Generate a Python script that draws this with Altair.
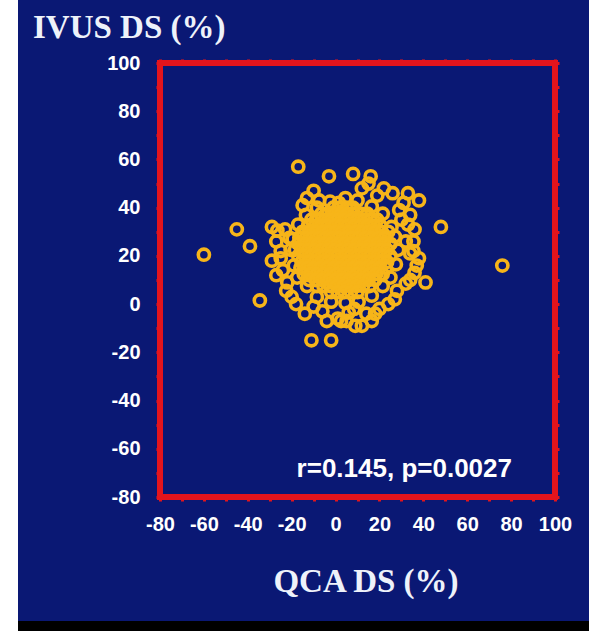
import altair as alt
import pandas as pd

# ---- data (QCA DS %, IVUS DS %) ----
outliers = [(-60, 20.5), (-45, 31), (-39, 24), (-34.5, 1.5), (76, 16), (48, 32),
            (-17, 57), (-3, 53), (-11, -15), (-2, -15)]

edge_points = [(8, 54), (16, 53), (15, 50), (22, 48), (26, 46), (12, 48), (19, 45),
               (-10, 47), (-13, 44), (-15, 41), (-7.5, 43), (1.5, 42),
               (-29, 32), (-26.5, 30.5), (-27, 26), (-25, 22), (-23, 31), (-25, 19),
               (-21, 27.5), (-29, 18), (-27, 12), (-24, 14), (-22, 9), (-22.5, 5.5),
               (-18, 0), (-20, 3), (-14, -4), (-10, -1), (-6, -3), (-4, -7), (1, -6),
               (5, -7), (6, -3.5), (9, -9), (8.5, -2), (14, -4), (18, -4), (20, -2),
               (12, -9), (16.5, -7), (2.5, -7), (24, 0), (27, 2), (28, 5.5), (32, 8.5),
               (34, 10), (41, 9), (37, 16), (36, 13), (38, 19), (35.5, 22), (34, 21),
               (32, 26), (35.5, 26), (36, 31), (33, 33), (30, 35), (34, 37), (29, 39),
               (31, 42), (38, 43), (33, 46)]

fringe_points = [(28.5, 22.5), (27, 28), (25.5, 32), (21.5, 37.5), (16.5, 40.5), (10, 43),
                 (4.5, 44), (-2.5, 42.5), (-8.5, 40), (-13.5, 37), (-17, 33), (-19.5, 27),
                 (-20.5, 22.5), (-19, 16), (-17.5, 11), (-13, 7.5), (-8.5, 3), (-2, 1),
                 (4.5, 0.5), (10.5, 1), (16.5, 3.5), (21.5, 7.5), (25, 11), (27.5, 16.5)]

core_rows_y = [40.0, 37.5, 35.0, 32.5, 30.0, 27.5, 25.0, 22.5,
               20.0, 17.5, 15.0, 12.5, 10.0, 7.5, 5.0]
core_rows_x = [
    [-1, 2, 5, 8],
    [-6.5, -3.5, -0.5, 2.5, 5.5, 8.5, 11.5, 14.5],
    [-11, -8, -5, -2, 1, 4, 7, 10, 13, 16, 19],
    [-12.5, -9.5, -6.5, -3.5, -0.5, 2.5, 5.5, 8.5, 11.5, 14.5, 17.5, 20.5],
    [-15, -12, -9, -6, -3, 0, 3, 6, 9, 12, 15, 18, 21, 24],
    [-16.5, -13.5, -10.5, -7.5, -4.5, -1.5, 1.5, 4.5, 7.5, 10.5, 13.5, 16.5, 19.5, 22.5],
    [-17, -14, -11, -8, -5, -2, 1, 4, 7, 10, 13, 16, 19, 22, 25],
    [-18.5, -15.5, -12.5, -9.5, -6.5, -3.5, -0.5, 2.5, 5.5, 8.5, 11.5, 14.5, 17.5, 20.5, 23.5],
    [-17, -14, -11, -8, -5, -2, 1, 4, 7, 10, 13, 16, 19, 22, 25],
    [-15.5, -12.5, -9.5, -6.5, -3.5, -0.5, 2.5, 5.5, 8.5, 11.5, 14.5, 17.5, 20.5, 23.5],
    [-16, -13, -10, -7, -4, -1, 2, 5, 8, 11, 14, 17, 20, 23],
    [-14.5, -11.5, -8.5, -5.5, -2.5, 0.5, 3.5, 6.5, 9.5, 12.5, 15.5, 18.5, 21.5],
    [-12, -9, -6, -3, 0, 3, 6, 9, 12, 15, 18],
    [-8.5, -5.5, -2.5, 0.5, 3.5, 6.5, 9.5, 12.5, 15.5],
    [-2, 1, 4, 7, 10],
]

axis_ticks = [-80, -70, -60, -50, -40, -30, -20, -10, 0, 10, 20, 30, 40, 50, 60, 70, 80, 90, 100]

y_title = "IVUS DS (%)"
x_title = "QCA DS (%)"
stat_text = "r=0.145, p=0.0027"

# ---- build table ----
pts = list(outliers) + list(edge_points) + list(fringe_points)
for yv, xs in zip(core_rows_y, core_rows_x):
    pts += [(xv, yv) for xv in xs]
df = pd.DataFrame(pts, columns=["qca", "ivus"])

RED = "#e3141c"
BG = "#0a1874"
ORANGE = "#f7b519"
TXT = "#eef2fa"

dom = [-80, 100]
label_expr = "datum.value % 20 == 0 ? '' + datum.value : ''"


def axis(orient, labels=True):
    kw = dict(values=axis_ticks, orient=orient, domain=False, grid=False,
              ticks=True, tickColor=RED, tickWidth=3, tickSize=4,
              title=None, labels=labels)
    if labels:
        kw.update(labelExpr=label_expr, labelColor="white", labelFont="Liberation Sans",
                  labelFontWeight="bold", labelFontSize=20, labelOverlap=False,
                  labelFlush=False, labelBound=False,
                  labelPadding=13 if orient in ("bottom", "top") else 16)
    return alt.Axis(**kw)


points = alt.Chart(df).mark_point(
    filled=False, shape="circle", size=125, strokeWidth=3.6, color=ORANGE, opacity=1
).encode(
    x=alt.X("qca:Q", scale=alt.Scale(domain=dom, nice=False, zero=False), axis=axis("bottom")),
    y=alt.Y("ivus:Q", scale=alt.Scale(domain=dom, nice=False, zero=False), axis=axis("left")),
)

ghost = alt.Chart(df).mark_point(opacity=0).encode(
    x=alt.X("qca:Q", scale=alt.Scale(domain=dom, nice=False, zero=False), axis=axis("top", False)),
    y=alt.Y("ivus:Q", scale=alt.Scale(domain=dom, nice=False, zero=False), axis=axis("right", False)),
)

one = pd.DataFrame({"a": [0]})
white_strip = alt.Chart(one).mark_rect(color="white").encode(
    x=alt.value(-160), x2=alt.value(-142), y=alt.value(-63), y2=alt.value(568))
black_strip = alt.Chart(one).mark_rect(color="#000000").encode(
    x=alt.value(-142), x2=alt.value(429), y=alt.value(558), y2=alt.value(568))

ytitle = alt.Chart(pd.DataFrame({"t": [y_title]})).mark_text(
    font="Liberation Serif", fontWeight="bold", fontSize=33, color=TXT,
    align="left", baseline="alphabetic").encode(
    text="t:N", x=alt.value(-127), y=alt.value(-25))
xtitle = alt.Chart(pd.DataFrame({"t": [x_title]})).mark_text(
    font="Liberation Serif", fontWeight="bold", fontSize=33, color=TXT,
    align="center", baseline="alphabetic").encode(
    text="t:N", x=alt.value(206), y=alt.value(529))
stat = alt.Chart(pd.DataFrame({"t": [stat_text]})).mark_text(
    font="Liberation Sans", fontWeight="bold", fontSize=26, color="white",
    align="right", baseline="alphabetic").encode(
    text="t:N", x=alt.value(352), y=alt.value(414))

chart = alt.layer(
    white_strip, black_strip, ghost, points, ytitle, xtitle, stat
).resolve_axis(x="independent", y="independent").properties(
    width=395, height=434,
    padding={"left": 160, "top": 63, "right": 34, "bottom": 134},
    autosize="none", background=BG,
).configure_view(stroke=RED, strokeWidth=6)

chart.save("out.html", embed_options={"renderer": "svg", "actions": False})
